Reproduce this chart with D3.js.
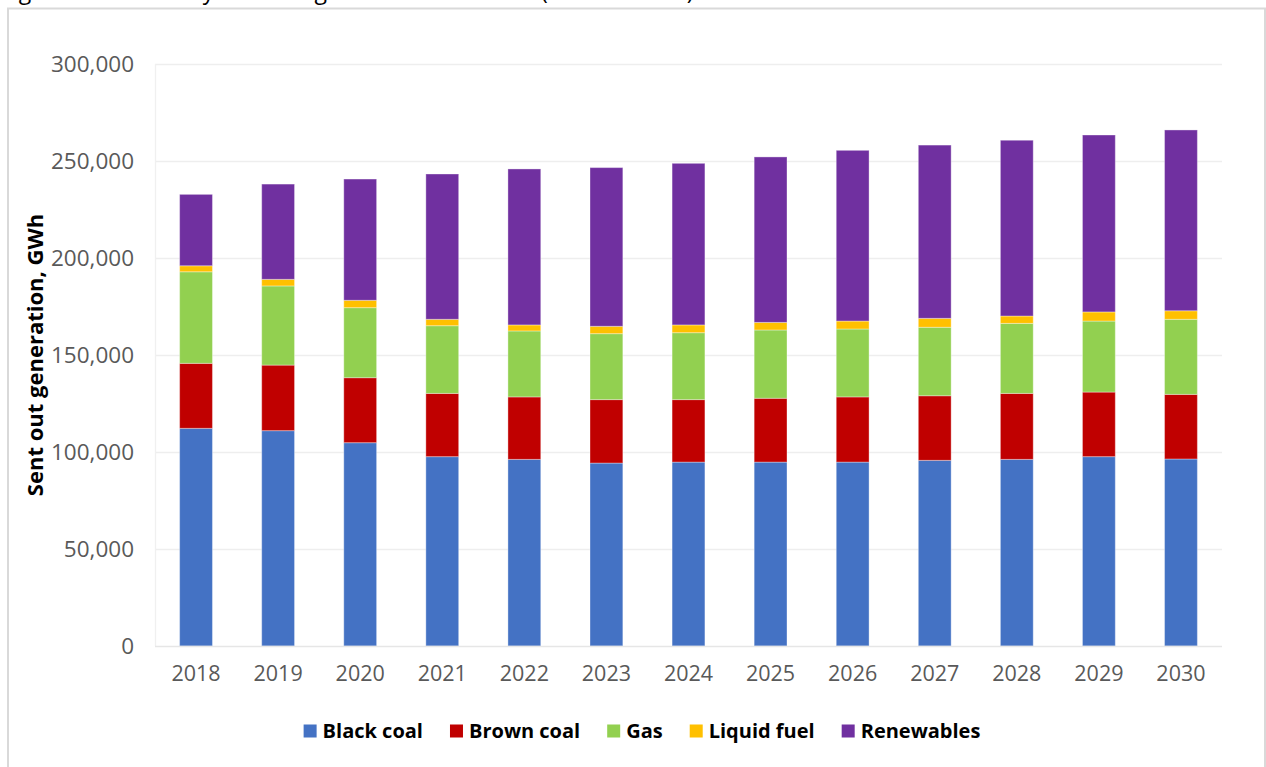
<!DOCTYPE html>
<html>
<head>
<meta charset="utf-8">
<script src="https://cdn.jsdelivr.net/npm/d3@7"></script>
<style>
  html, body { margin: 0; padding: 0; background: #fff; overflow: hidden; }
  svg { display: block; }
</style>
</head>
<body>
<svg id="chart" width="1266" height="767"></svg>
<script>
// Sent out generation by fuel type, GWh
const years = ["2018","2019","2020","2021","2022","2023","2024","2025","2026","2027","2028","2029","2030"];
const seriesNames = ["Black coal", "Brown coal", "Gas", "Liquid fuel", "Renewables"];
const blackCoal  = [112200, 111000, 104800, 97600, 96200, 94300, 94800, 94800, 94800, 95700, 96200, 97600, 96400];
const brownCoal  = [ 33500,  33800,  33500, 32600, 32200, 32700, 32200, 32900, 33600, 33300, 34000, 33300, 33300];
const gas        = [ 47200,  40800,  36100, 34900, 34000, 34000, 34500, 35200, 35000, 35300, 36100, 36600, 38700];
const liquidFuel = [  3100,   3400,   3800,  3300,  3100,  3800,  4000,  3900,  4100,  4600,  3800,  4700,  4400];
const renewables = [ 36800,  49100,  62500, 74900, 80400, 81800, 83300, 85300, 88000, 89300, 90600, 91200, 93200];
const yTicks = [0, 50000, 100000, 150000, 200000, 250000, 300000];
const colors = ["#4472C4", "#C00000", "#92D050", "#FFC000", "#7030A0"];

const seriesValues = [blackCoal, brownCoal, gas, liquidFuel, renewables];
const rows = years.map((yr, i) => {
  const r = { year: yr };
  seriesNames.forEach((name, s) => { r[name] = seriesValues[s][i]; });
  return r;
});

const svg = d3.select("#chart");
const font = "'Open Sans', 'Noto Sans', sans-serif";

// Caption line above the chart frame
svg.append("text")
  .attr("x", 1).attr("y", -1)
  .attr("font-family", font).attr("font-size", 23)
  .attr("fill", "#000")
  .text("Figure 3.2 Electricity sent out generation forecasts (2018 to 2030)");

// Chart frame
svg.append("rect")
  .attr("x", 8).attr("y", 8.5)
  .attr("width", 1257).attr("height", 800)
  .attr("fill", "#fff")
  .attr("stroke", "#d9d9d9").attr("stroke-width", 2);

const plot = { left: 155, right: 1222, top: 64, bottom: 646 };

const x = d3.scaleBand()
  .domain(years)
  .range([plot.left, plot.right])
  .paddingInner(0.6)
  .paddingOuter(0.3);

const y = d3.scaleLinear()
  .domain([0, 300000])
  .range([plot.bottom, plot.top]);

// Horizontal gridlines
svg.append("g")
  .selectAll("line")
  .data(yTicks.filter(d => d > 0))
  .join("line")
  .attr("x1", plot.left).attr("x2", plot.right)
  .attr("y1", d => y(d) + 0.5).attr("y2", d => y(d) + 0.5)
  .attr("stroke", "#eeeeee").attr("stroke-width", 1.3);

// Value axis line
svg.append("line")
  .attr("x1", plot.left + 0.5).attr("x2", plot.left + 0.5)
  .attr("y1", plot.top).attr("y2", plot.bottom)
  .attr("stroke", "#f0f0f0").attr("stroke-width", 1.3);

// Y axis labels
const yAxis = d3.axisLeft(y)
  .tickValues(yTicks)
  .tickFormat(d3.format(","))
  .tickSize(0)
  .tickPadding(0);
const yg = svg.append("g")
  .attr("transform", `translate(${134},0)`)
  .call(yAxis);
yg.select(".domain").remove();
yg.selectAll("text")
  .attr("font-family", font).attr("font-size", 22.5)
  .attr("fill", "#595959");

// Stacked bars
const stack = d3.stack().keys(seriesNames);
const stacked = stack(rows);

svg.append("g")
  .selectAll("g")
  .data(stacked)
  .join("g")
  .attr("fill", (d, i) => colors[i])
  .selectAll("rect")
  .data(d => d)
  .join("rect")
  .attr("x", d => x(d.data.year))
  .attr("width", x.bandwidth())
  .attr("y", d => y(d[1]))
  .attr("height", d => y(d[0]) - y(d[1]))
  .attr("stroke", "rgba(255,255,255,0.35)")
  .attr("stroke-width", 1);

// Category axis
svg.append("line")
  .attr("x1", plot.left).attr("x2", plot.right)
  .attr("y1", plot.bottom + 0.5).attr("y2", plot.bottom + 0.5)
  .attr("stroke", "#e6e6e6").attr("stroke-width", 1.3);

const xAxis = d3.axisBottom(x).tickSize(0).tickPadding(0);
const xg = svg.append("g")
  .attr("transform", `translate(0,${plot.bottom + 20})`)
  .call(xAxis);
xg.select(".domain").remove();
xg.selectAll("text")
  .attr("font-family", font).attr("font-size", 21.5)
  .attr("fill", "#595959");

// Y axis title
svg.append("text")
  .attr("transform", `translate(43,${(plot.top + plot.bottom) / 2}) rotate(-90)`)
  .attr("text-anchor", "middle")
  .attr("font-family", font).attr("font-size", 22)
  .attr("font-weight", "bold")
  .attr("fill", "#000")
  .text("Sent out generation, GWh");

// Legend
const legend = svg.append("g");
const items = legend.selectAll("g")
  .data(seriesNames)
  .join("g");
items.append("rect")
  .attr("width", 13).attr("height", 13)
  .attr("y", -6.5)
  .attr("fill", (d, i) => colors[i]);
items.append("text")
  .attr("x", 19).attr("y", 0)
  .attr("dy", "0.35em")
  .attr("font-family", font).attr("font-size", 20)
  .attr("font-weight", "bold")
  .attr("fill", "#000")
  .text(d => d);

let cursor = 0;
items.each(function () {
  const g = d3.select(this);
  const w = g.select("text").node().getComputedTextLength();
  g.attr("transform", `translate(${cursor},0)`);
  cursor += 19 + w + 27;
});
const legendWidth = cursor - 27;
legend.attr("transform", `translate(${642 - legendWidth / 2},731)`);
</script>
</body>
</html>
